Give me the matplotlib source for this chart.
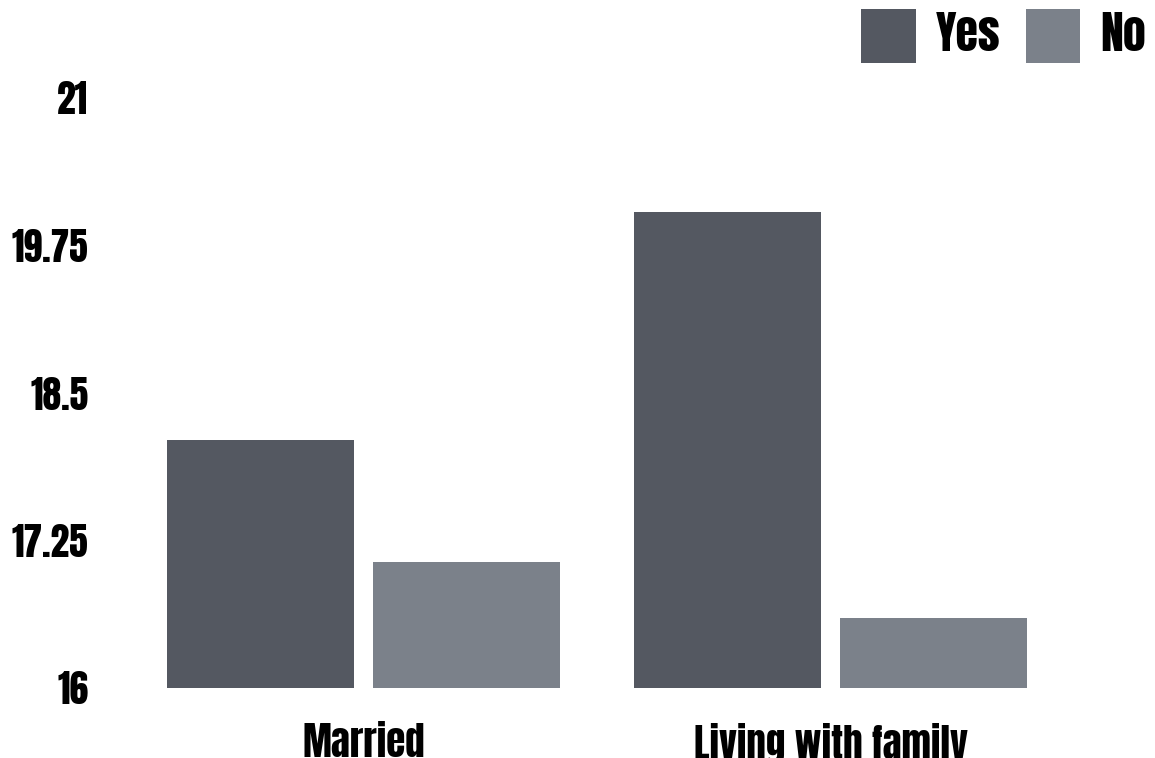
import matplotlib
matplotlib.use("Agg")
import matplotlib.pyplot as plt
from matplotlib import font_manager
import numpy as np

categories = ["Married", "Living with family"]
series_names = ["Yes", "No"]
yes_values = [18.1, 20.03]
no_values = [17.07, 16.59]
yticks = [16, 17.25, 18.5, 19.75, 21]
colors = ["#545861", "#7b818a"]

names = {f.name for f in font_manager.fontManager.ttflist}
fam = "DejaVu Sans"
for cand in ["Anton", "Bebas Neue", "Oswald", "League Gothic", "IBM Plex Sans Condensed"]:
    if cand in names:
        fam = cand
        break
plt.rcParams["font.family"] = [fam, "DejaVu Sans"]

fig = plt.figure(figsize=(11.55, 7.58), dpi=100)
ax = fig.add_axes([130/1155, 70/758, 934/1155, 590/758])

x = np.arange(len(categories))
w = 187/467
gap = 19/467
ax.bar(x - (w+gap)/2, yes_values, width=w, color=colors[0], label=series_names[0])
ax.bar(x + (w+gap)/2, no_values, width=w, color=colors[1], label=series_names[1])
ax.set_ylim(16, 21)
ax.set_xlim(-0.5, 1.5)
ax.set_yticks(yticks)
ax.set_yticklabels([f"{t:g}" for t in yticks], fontsize=27)
ax.set_xticks(x)
ax.set_xticklabels(categories, fontsize=28)
ax.tick_params(length=0, pad=30, axis="y")
ax.tick_params(length=0, pad=25, axis="x")
for s in ax.spines.values():
    s.set_visible(False)

fig.legend(loc="upper right", bbox_to_anchor=(1151/1155, 1 - 4/758), ncol=2, frameon=False,
           handlelength=1.18, handleheight=1.45, handletextpad=0.45,
           columnspacing=0.55, borderaxespad=0, borderpad=0.1,
           prop={"family": [fam, "DejaVu Sans"], "size": 33})
fig.savefig("out.png", dpi=100)
